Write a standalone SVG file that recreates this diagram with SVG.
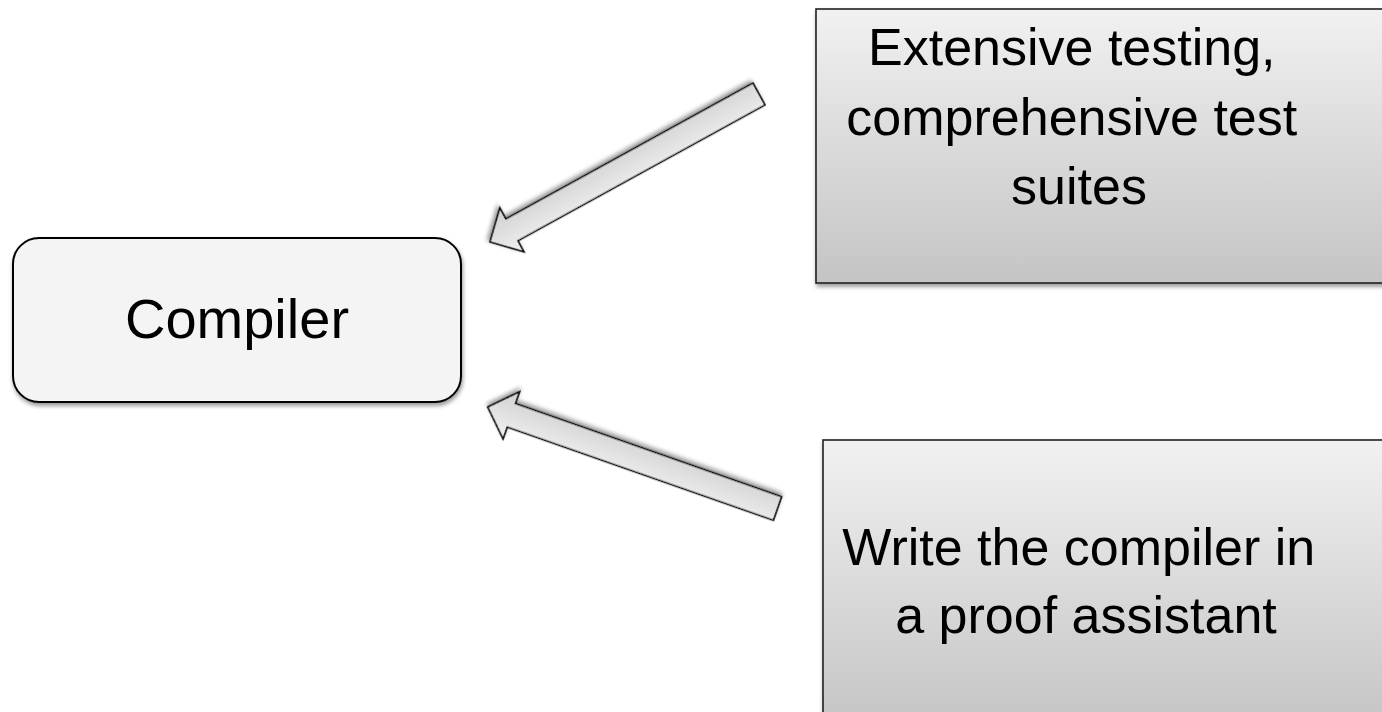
<svg xmlns="http://www.w3.org/2000/svg" width="1382" height="712" viewBox="0 0 1382 712">
  <style>
    .label { font-family: "Liberation Sans", Arial, sans-serif; fill: #000; text-anchor: middle; }
    .box { stroke: #222; stroke-width: 1.6; }
    .arrow { fill: url(#arrowFill); stroke: #000; stroke-width: 1.6; stroke-linejoin: miter; }
  </style>
  <defs>
    <linearGradient id="boxFill" x1="0" y1="0" x2="0" y2="1">
      <stop offset="0" stop-color="#f1f1f1"/>
      <stop offset="1" stop-color="#c4c4c4"/>
    </linearGradient>
    <linearGradient id="arrowFill" x1="0" y1="0" x2="0" y2="1">
      <stop offset="0" stop-color="#f2f2f2"/>
      <stop offset="1" stop-color="#cfcfcf"/>
    </linearGradient>
    <filter id="shadow" x="-10%" y="-10%" width="130%" height="140%">
      <feGaussianBlur in="SourceAlpha" stdDeviation="2"/>
      <feOffset dx="1" dy="3" result="blur"/>
      <feComponentTransfer><feFuncA type="linear" slope="0.4"/></feComponentTransfer>
      <feMerge><feMergeNode/><feMergeNode in="SourceGraphic"/></feMerge>
    </filter>
    <!-- block arrow pointing along +x, tail at origin -->
    <path id="blockArrow" d="M0,-12.5 L282,-12.5 L282,-25 L307,0 L282,25 L282,12.5 L0,12.5 Z"/>
  </defs>

  <g id="compiler">
    <rect x="13" y="238" width="448" height="164" rx="26" ry="26" fill="#f4f4f4" stroke="#000" stroke-width="2" filter="url(#shadow)"/>
    <text class="label" x="237" y="338" font-size="56">Compiler</text>
  </g>

  <g id="testing">
    <rect class="box" x="816" y="9" width="580" height="274" fill="url(#boxFill)" filter="url(#shadow)"/>
    <text class="label" font-size="52">
      <tspan x="1079" y="65">Extensive testing,</tspan>
      <tspan x="1079" y="135">comprehensive test</tspan>
      <tspan x="1079" y="204">suites</tspan>
    </text>
  </g>

  <g id="proof">
    <rect class="box" x="823" y="440" width="580" height="290" fill="url(#boxFill)" filter="url(#shadow)"/>
    <text class="label" font-size="52">
      <tspan x="1086" y="565">Write the compiler in</tspan>
      <tspan x="1086" y="633">a proof assistant</tspan>
    </text>
  </g>

  <g id="connectors">
    <use href="#blockArrow" class="arrow" transform="translate(759,94) rotate(151.2)" filter="url(#shadow)"/>
    <use href="#blockArrow" class="arrow" transform="translate(777.5,508.5) rotate(199.3)" filter="url(#shadow)"/>
  </g>
</svg>
